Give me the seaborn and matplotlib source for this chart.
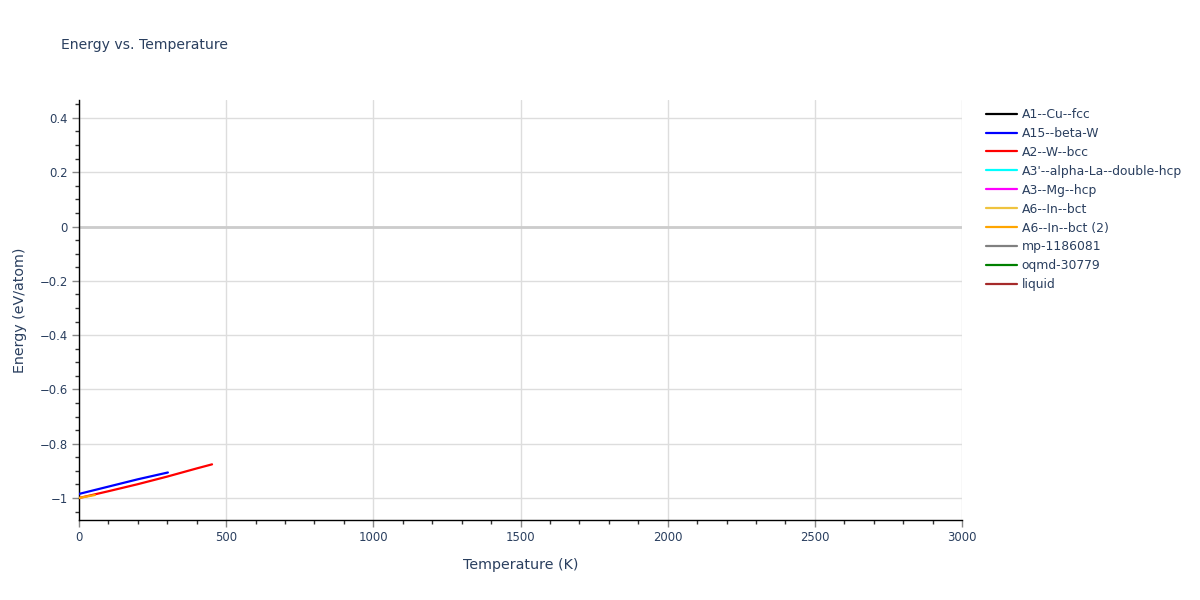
import matplotlib
matplotlib.use("Agg")
import matplotlib.pyplot as plt
import seaborn as sns
import pandas as pd
from matplotlib.ticker import MultipleLocator
from matplotlib.lines import Line2D

# fases del legend, en orden
phases = ["A1--Cu--fcc", "A15--beta-W", "A2--W--bcc", "A3'--alpha-La--double-hcp",
          "A3--Mg--hcp", "A6--In--bct", "A6--In--bct (2)", "mp-1186081",
          "oqmd-30779", "liquid"]
colors = ["black", "blue", "red", "cyan", "magenta", "#EFC33F", "orange",
          "gray", "green", "brown"]

# curvas (T en K, E en eV/atom)
t_beta_w = [0, 100, 200, 302]
e_beta_w = [-0.985, -0.958, -0.931, -0.906]

t_bcc = [0, 100, 200, 300, 400, 452]
e_bcc = [-1.000, -0.975, -0.949, -0.921, -0.891, -0.876]

t_bct2 = [0, 54]
e_bct2 = [-1.000, -0.989]

series = {
    "A15--beta-W": (t_beta_w, e_beta_w),
    "A2--W--bcc": (t_bcc, e_bcc),
    "A6--In--bct (2)": (t_bct2, e_bct2),
}

sns.set_style("white")
plt.rcParams['font.family'] = ['DejaVu Sans']
txt = "#2a3f5f"

fig = plt.figure(figsize=(12, 6), dpi=100)
ax = fig.add_axes([79/1200, 1 - 520/600, (962-79)/1200, 420/600])

for name, col in zip(phases, colors):
    if name in series:
        t, e = series[name]
        df = pd.DataFrame({"T": t, "E": e})
        sns.lineplot(data=df, x="T", y="E", ax=ax, color=col, linewidth=1.6, zorder=3)

ax.set_xlim(0, 3000)
ax.set_ylim(-1.081, 0.466)
ax.xaxis.set_major_locator(MultipleLocator(500))
ax.xaxis.set_minor_locator(MultipleLocator(100))
ax.yaxis.set_major_locator(MultipleLocator(0.2))
ax.yaxis.set_minor_locator(MultipleLocator(0.05))
ax.grid(True, which="major", color="#dddddd", linewidth=1)
ax.axhline(0, color="#cccccc", linewidth=2, zorder=1)
ax.set_axisbelow(True)

for s in ["top", "right"]:
    ax.spines[s].set_visible(False)
for s in ["left", "bottom"]:
    ax.spines[s].set_color("black")
    ax.spines[s].set_linewidth(1)

ax.tick_params(which="major", direction="out", length=5, width=1, color="#888888",
               labelsize=8.4, labelcolor=txt, bottom=True, left=True, pad=3)
ax.tick_params(which="minor", direction="out", length=3, width=1, color="#333333",
               bottom=True, left=True)
ax.set_yticks([0.4, 0.2, 0, -0.2, -0.4, -0.6, -0.8, -1])
ax.set_yticklabels(["0.4", "0.2", "0", "\u22120.2", "\u22120.4", "\u22120.6", "\u22120.8", "\u22121"])

ax.set_xlabel("Temperature (K)", fontsize=10.3, color=txt, labelpad=10)
ax.set_ylabel("Energy (eV/atom)", fontsize=10.3, color=txt, labelpad=9)

fig.text(61/1200, 1 - 45/600, "Energy vs. Temperature", fontsize=10.1, color=txt, va="center")

handles = [Line2D([], [], color=c, linewidth=1.6) for c in colors]
leg = fig.legend(handles, phases, loc="upper left", bbox_to_anchor=(981/1200, 1 - 103/600),
                 frameon=False, fontsize=8.9, handlelength=2.5, handletextpad=0.4,
                 labelspacing=0.48, borderaxespad=0)
for t in leg.get_texts():
    t.set_color(txt)

fig.savefig("out.png", dpi=100)
